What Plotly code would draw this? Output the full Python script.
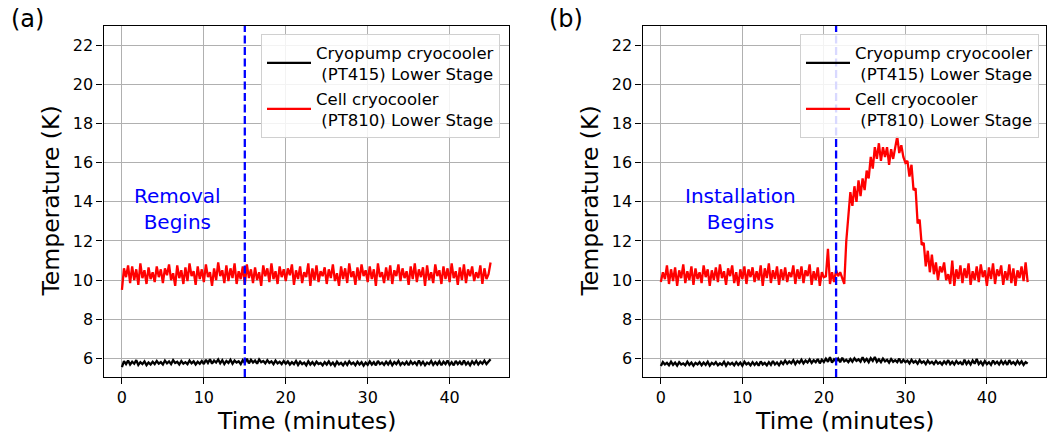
import plotly.graph_objects as go

# ---------------- data ----------------
time_min = [0.25 * i for i in range(181)]

cryopump_a = [
    5.55, 5.85, 5.70, 5.88, 5.68, 5.82, 5.72, 5.90, 5.66, 5.80, 5.70, 5.84, 5.65, 5.78, 5.68, 5.82, 5.70, 5.86, 5.72, 5.80,
    5.68, 5.88, 5.74, 5.84, 5.70, 5.90, 5.76, 5.82, 5.68, 5.86, 5.72, 5.80, 5.70, 5.88, 5.74, 5.84, 5.68, 5.82, 5.72, 5.86,
    5.70, 5.92, 5.76, 5.95, 5.72, 5.88, 5.78, 5.94, 5.74, 5.90, 5.70, 5.86, 5.76, 5.92, 5.72, 5.88, 5.78, 5.84, 5.70, 5.90,
    5.76, 5.97, 5.74, 5.92, 5.78, 5.88, 5.72, 5.94, 5.80, 5.86, 5.74, 5.90, 5.76, 5.84, 5.70, 5.88, 5.74, 5.82, 5.70, 5.86,
    5.72, 5.84, 5.68, 5.80, 5.70, 5.86, 5.66, 5.82, 5.70, 5.78, 5.64, 5.84, 5.68, 5.80, 5.66, 5.82, 5.70, 5.76, 5.64, 5.80,
    5.68, 5.84, 5.66, 5.78, 5.62, 5.82, 5.68, 5.76, 5.64, 5.80, 5.66, 5.84, 5.70, 5.78, 5.64, 5.82, 5.68, 5.80, 5.62, 5.78,
    5.66, 5.84, 5.68, 5.80, 5.64, 5.86, 5.70, 5.78, 5.66, 5.82, 5.68, 5.84, 5.64, 5.80, 5.70, 5.86, 5.66, 5.78, 5.68, 5.82,
    5.64, 5.84, 5.70, 5.80, 5.66, 5.88, 5.68, 5.82, 5.64, 5.78, 5.70, 5.86, 5.66, 5.80, 5.68, 5.84, 5.64, 5.82, 5.70, 5.88,
    5.66, 5.80, 5.64, 5.86, 5.70, 5.82, 5.66, 5.88, 5.68, 5.80, 5.64, 5.84, 5.70, 5.86, 5.68, 5.82, 5.72, 5.88, 5.70, 5.84, 5.95,
]

cell_a = [
    9.50, 10.60, 10.15, 10.75, 9.85, 10.70, 10.00, 10.55, 9.75, 10.85, 10.10, 10.50, 9.80, 10.65, 10.05, 10.40, 9.90, 10.70, 10.15, 10.55,
    9.85, 10.60, 10.25, 10.80, 10.00, 10.35, 9.70, 10.75, 10.10, 10.50, 9.80, 10.65, 9.95, 10.85, 10.20, 10.45, 9.75, 10.70, 10.05, 10.55,
    9.90, 10.80, 10.15, 10.40, 9.70, 10.60, 10.00, 10.90, 10.20, 10.50, 9.85, 10.75, 9.95, 10.60, 10.10, 10.85, 9.80, 10.45, 10.05, 10.70,
    9.75, 10.80, 10.10, 10.55, 9.85, 10.65, 10.00, 10.40, 9.70, 10.75, 10.20, 10.60, 9.90, 10.85, 10.05, 10.45, 9.80, 10.70, 10.15, 10.55,
    9.95, 10.60, 10.25, 10.80, 9.75, 10.50, 10.05, 10.70, 9.85, 10.40, 10.15, 10.85, 9.70, 10.60, 10.00, 10.75, 9.90, 10.45, 10.20, 10.65,
    9.80, 10.55, 10.10, 10.80, 9.95, 10.35, 9.70, 10.70, 10.05, 10.60, 9.85, 10.85, 10.15, 10.45, 9.75, 10.65, 10.00, 10.80, 10.20, 10.50,
    9.90, 10.70, 10.05, 10.55, 9.70, 10.85, 10.15, 10.40, 9.85, 10.65, 10.00, 10.75, 9.80, 10.50, 10.20, 10.80, 9.95, 10.60, 10.10, 10.45,
    9.75, 10.70, 10.05, 10.85, 9.90, 10.55, 10.15, 10.65, 9.70, 10.75, 10.00, 10.40, 9.85, 10.80, 10.20, 10.50, 9.80, 10.70, 10.05, 10.60,
    9.90, 10.85, 10.10, 10.45, 9.75, 10.65, 10.00, 10.80, 9.85, 10.55, 10.20, 10.70, 9.95, 10.40, 10.10, 10.75, 9.80, 10.60, 10.05, 10.30, 10.90,
]

cryopump_b = [
    5.60, 5.80, 5.68, 5.76, 5.64, 5.82, 5.66, 5.78, 5.62, 5.80, 5.68, 5.74, 5.64, 5.82, 5.66, 5.78, 5.62, 5.76, 5.68, 5.80,
    5.64, 5.78, 5.66, 5.82, 5.62, 5.76, 5.68, 5.80, 5.64, 5.74, 5.66, 5.82, 5.62, 5.78, 5.68, 5.76, 5.64, 5.80, 5.66, 5.78,
    5.62, 5.82, 5.68, 5.76, 5.64, 5.80, 5.66, 5.78, 5.62, 5.84, 5.68, 5.76, 5.64, 5.80, 5.66, 5.86, 5.68, 5.78, 5.64, 5.82,
    5.70, 5.88, 5.72, 5.84, 5.74, 5.90, 5.70, 5.86, 5.76, 5.92, 5.74, 5.88, 5.78, 5.94, 5.76, 5.90, 5.80, 5.96, 5.74, 5.92,
    5.80, 5.98, 5.82, 6.05, 5.78, 5.94, 5.84, 5.98, 5.80, 6.02, 5.84, 5.92, 5.80, 5.96, 5.82, 6.00, 5.86, 5.94, 5.82, 6.05,
    5.84, 5.96, 5.80, 6.00, 5.86, 6.06, 5.82, 5.94, 5.80, 5.98, 5.84, 5.92, 5.78, 5.96, 5.82, 5.90, 5.80, 5.98, 5.76, 5.92,
    5.80, 5.88, 5.74, 5.92, 5.78, 5.86, 5.72, 5.90, 5.76, 5.84, 5.70, 5.88, 5.74, 5.82, 5.70, 5.86, 5.72, 5.80, 5.68, 5.84,
    5.72, 5.90, 5.70, 5.82, 5.68, 5.86, 5.72, 5.80, 5.66, 5.92, 5.70, 5.84, 5.68, 5.88, 5.72, 5.96, 5.70, 5.82, 5.66, 5.86,
    5.70, 5.80, 5.66, 5.88, 5.72, 5.82, 5.68, 5.86, 5.70, 5.84, 5.66, 5.90, 5.72, 5.80, 5.68, 5.86, 5.70, 5.84, 5.66, 5.80, 5.72,
]

cell_b = [
    9.90, 10.40, 10.05, 10.75, 9.80, 10.55, 9.95, 10.65, 9.70, 10.50, 10.10, 10.80, 9.85, 10.45, 10.00, 10.70, 9.75, 10.60, 10.05, 10.40,
    9.85, 10.75, 10.15, 10.55, 9.70, 10.50, 10.00, 10.65, 9.90, 10.80, 10.10, 10.45, 9.75, 10.60, 10.20, 10.75, 9.85, 10.40, 9.70, 10.55,
    10.05, 10.70, 9.80, 10.55, 10.15, 10.65, 9.90, 10.45, 10.00, 10.75, 9.70, 10.60, 10.10, 10.85, 9.85, 10.50, 10.05, 10.70, 9.75, 10.55,
    10.00, 10.65, 9.90, 10.40, 10.15, 10.75, 9.80, 10.55, 10.05, 10.70, 9.85, 10.50, 10.20, 10.80, 9.75, 10.45, 10.00, 10.65, 9.70, 10.40,
    10.15, 10.20, 11.60, 9.80, 10.40, 9.90, 10.50, 10.20, 10.40, 10.10, 9.80, 12.00, 13.30, 14.50, 13.80, 14.80, 14.00, 15.10, 14.30, 15.20,
    14.60, 15.60, 15.20, 16.30, 15.70, 16.80, 16.20, 17.00, 16.10, 16.80, 16.30, 16.80, 15.90, 16.70, 16.20, 16.90, 17.35, 16.50, 16.90, 16.30,
    16.00, 16.10, 15.30, 15.90, 14.60, 14.70, 12.90, 13.10, 11.80, 11.90, 10.70, 11.50, 10.40, 11.30, 10.30, 10.90, 10.00, 10.70, 10.40, 10.90,
    10.00, 10.30, 9.80, 11.00, 9.70, 10.55, 10.05, 10.75, 9.85, 10.60, 10.10, 10.85, 9.75, 10.45, 10.00, 10.70, 9.90, 10.80, 10.15, 10.50,
    9.70, 10.65, 10.05, 10.85, 9.80, 10.55, 10.20, 10.75, 9.75, 10.45, 10.00, 10.80, 9.85, 10.60, 9.70, 10.50, 10.10, 10.70, 9.95, 10.90, 9.90,
]

removal_time = 15.0
installation_time = 21.5

legend_pt415 = "Cryopump cryocooler<br>\u00a0(PT415) Lower Stage"
legend_pt810 = "Cell cryocooler<br>\u00a0(PT810) Lower Stage"

x_ticks = [0, 10, 20, 30, 40]
y_ticks = [6, 8, 10, 12, 14, 16, 18, 20, 22]

# ---------------- figure ----------------
FONT = "DejaVu Sans"
W, H = 1047, 434

fig = go.Figure()

LW = 2.3
fig.add_trace(go.Scatter(x=time_min, y=cryopump_a, mode="lines", name=legend_pt415,
                         line=dict(color="black", width=LW), xaxis="x", yaxis="y", legend="legend"))
fig.add_trace(go.Scatter(x=time_min, y=cell_a, mode="lines", name=legend_pt810,
                         line=dict(color="red", width=LW), xaxis="x", yaxis="y", legend="legend"))
fig.add_trace(go.Scatter(x=time_min, y=cryopump_b, mode="lines", name=legend_pt415,
                         line=dict(color="black", width=LW), xaxis="x2", yaxis="y2", legend="legend2"))
fig.add_trace(go.Scatter(x=time_min, y=cell_b, mode="lines", name=legend_pt810,
                         line=dict(color="red", width=LW), xaxis="x2", yaxis="y2", legend="legend2"))

def px_x(p):
    return p / W

def px_y(p):
    return 1 - p / H

axis_common = dict(
    showgrid=True, gridcolor="#b0b0b0", gridwidth=1.2,
    showline=True, linecolor="black", linewidth=1.3, mirror=True,
    ticks="outside", ticklen=6, tickwidth=1.3, tickcolor="black",
    tickfont=dict(family=FONT, size=16, color="black"),
    zeroline=False,
)

ydom = [px_y(377), px_y(26)]
legend_common = dict(
    xanchor="right", yanchor="top",
    bgcolor="rgba(255,255,255,0.85)", bordercolor="#d0d0d0", borderwidth=1,
    font=dict(family=FONT, size=16.5, color="black"), valign="middle",
    tracegroupgap=0, itemwidth=44,
)
fig.update_layout(
    width=W, height=H,
    margin=dict(l=0, r=0, t=0, b=0),
    paper_bgcolor="white", plot_bgcolor="white",
    font=dict(family=FONT, color="black"),
    showlegend=True,
    xaxis=dict(domain=[px_x(103.5), px_x(509)], range=[-2.25, 47.25], tickvals=x_ticks, anchor="y", **axis_common),
    yaxis=dict(domain=ydom, range=[5.04, 23.0], tickvals=y_ticks, anchor="x", **axis_common),
    xaxis2=dict(domain=[px_x(642.5), px_x(1046)], range=[-2.25, 47.25], tickvals=x_ticks, anchor="y2", **axis_common),
    yaxis2=dict(domain=ydom, range=[5.04, 23.0], tickvals=y_ticks, anchor="x2", **axis_common),
    legend=dict(x=px_x(500), y=px_y(34), **legend_common),
    legend2=dict(x=px_x(1039), y=px_y(34), **legend_common),
)

# event lines
fig.add_shape(type="line", xref="x", yref="y domain", x0=removal_time, x1=removal_time, y0=0, y1=1,
              line=dict(color="blue", width=2.3, dash="8px,3.5px"), layer="above")
fig.add_shape(type="line", xref="x2", yref="y2 domain", x0=installation_time, x1=installation_time, y0=0, y1=1,
              line=dict(color="blue", width=2.3, dash="8px,3.5px"), layer="above")

# event annotations
fig.add_annotation(x=6.8, y=13.64, xref="x", yref="y", text="Removal<br>Begins", showarrow=False,
                   font=dict(family=FONT, size=20, color="blue"), align="center",
                   xanchor="center", yanchor="middle")
fig.add_annotation(x=9.8, y=13.64, xref="x2", yref="y2", text="Installation<br>Begins", showarrow=False,
                   font=dict(family=FONT, size=20, color="blue"), align="center",
                   xanchor="center", yanchor="middle")

# axis titles
for cx, ty in [((103.5 + 509) / 2, 51), ((642.5 + 1046) / 2, 590)]:
    fig.add_annotation(x=px_x(cx), y=px_y(421), xref="paper", yref="paper", text="Time (minutes)",
                       showarrow=False, font=dict(family=FONT, size=23.5, color="black"),
                       xanchor="center", yanchor="middle")
    fig.add_annotation(x=px_x(ty), y=(ydom[0] + ydom[1]) / 2, xref="paper", yref="paper", text="Temperature (K)",
                       showarrow=False, textangle=-90, font=dict(family=FONT, size=23.5, color="black"),
                       xanchor="center", yanchor="middle")

# panel labels
fig.add_annotation(x=px_x(27), y=px_y(19), xref="paper", yref="paper", text="(a)", showarrow=False,
                   font=dict(family=FONT, size=24, color="black"), xanchor="center", yanchor="middle")
fig.add_annotation(x=px_x(566), y=px_y(19), xref="paper", yref="paper", text="(b)", showarrow=False,
                   font=dict(family=FONT, size=24, color="black"), xanchor="center", yanchor="middle")

fig.write_html("out.html", config={"displayModeBar": False},
               post_script="document.body.style.margin='0';document.body.style.overflow='hidden';")
